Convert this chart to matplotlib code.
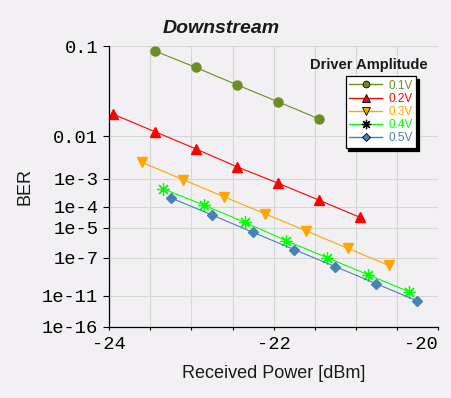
import numpy as np
import matplotlib
matplotlib.use("Agg")
import matplotlib.pyplot as plt
from matplotlib.lines import Line2D
from matplotlib.ticker import FixedLocator, FixedFormatter, MultipleLocator, FuncFormatter
from math import erfc, sqrt

# Data (received power in dBm, BER)
power_01 = [-23.45, -22.95, -22.45, -21.95, -21.45]
ber_01 = [9.3e-2, 7.0e-2, 4.9e-2, 3.2e-2, 1.9e-2]
power_02 = [-23.95, -23.45, -22.95, -22.45, -21.95, -21.45, -20.95]
ber_02 = [2.2e-2, 1.2e-2, 5.7e-3, 2.2e-3, 7.5e-4, 1.9e-4, 3.4e-5]
power_03 = [-23.6, -23.1, -22.6, -22.1, -21.6, -21.1, -20.6]
ber_03 = [2.8e-3, 9.5e-4, 2.5e-4, 4.9e-5, 6.4e-6, 5.1e-7, 2.2e-8]
power_04 = [-23.35, -22.85, -22.35, -21.85, -21.35, -20.85, -20.35]
ber_04 = [4.9e-4, 1.2e-4, 1.9e-5, 1.7e-6, 9.9e-8, 2.8e-9, 3.4e-11]
power_05 = [-23.25, -22.75, -22.25, -21.75, -21.25, -20.75, -20.25]
ber_05 = [2.3e-4, 4.4e-5, 5.4e-6, 4.1e-7, 1.7e-8, 3.1e-10, 2.1e-12]

labels = ["0.1V", "0.2V", "0.3V", "0.4V", "0.5V"]
ber_ticks = [1e-1, 1e-2, 1e-3, 1e-4, 1e-5, 1e-7, 1e-11, 1e-16]
ber_tick_labels = ["0.1", "0.01", "1e-3", "1e-4", "1e-5", "1e-7", "1e-11", "1e-16"]

# BER axis: log of the Q factor (Q^-1 of BER)
_erfc = np.vectorize(erfc, otypes=[float])


def q_func(x):
    return 0.5 * _erfc(np.asarray(x, float) / sqrt(2))


def q_inv(p):
    p = np.asarray(p, float)
    lo = np.zeros(p.shape)
    hi = np.full(p.shape, 38.0)
    for _ in range(60):
        mid = 0.5 * (lo + hi)
        above = q_func(mid) > p
        lo = np.where(above, mid, lo)
        hi = np.where(above, hi, mid)
    return 0.5 * (lo + hi)


def forward(p):
    p = np.asarray(p, float)
    ok = (p > 0) & (p < 0.5)
    safe = np.where(ok, p, 0.1)
    return np.where(ok, -np.log10(q_inv(safe)), np.nan)


def inverse(y):
    return q_func(10 ** (-np.asarray(y, float)))


bg = "#f2f0f3"
plt.rcParams["axes.unicode_minus"] = False
fig = plt.figure(figsize=(4.51, 3.98), dpi=100, facecolor=bg)
ax = fig.add_axes([0.2424, 0.179, 0.7286, 0.7053], facecolor=bg)

series = [
    (power_01, ber_01, dict(color="#6b8e23", marker="o", ms=6.5)),
    (power_02, ber_02, dict(color="#ff0000", marker="^", ms=7)),
    (power_03, ber_03, dict(color="#ffa500", marker="v", ms=7)),
    (power_04, ber_04, dict(color="#00ff00", marker=(8, 2, 0), ms=9, mew=0.9)),
    (power_05, ber_05, dict(color="#4682b4", marker="D", ms=5)),
]
for x, y, st in series:
    ax.plot(x, y, lw=0.8, mec=st["color"], **st)

ax.set_yscale("function", functions=(forward, inverse))
ax.set_ylim(1e-16, 0.1)
ax.set_xlim(-24, -20)

ax.yaxis.set_major_locator(FixedLocator(ber_ticks))
ax.yaxis.set_major_formatter(FixedFormatter(ber_tick_labels))
ax.yaxis.set_minor_locator(FixedLocator([]))
ax.xaxis.set_major_locator(MultipleLocator(0.5))
ax.xaxis.set_major_formatter(FuncFormatter(lambda v, pos: "%d" % round(v) if abs(v / 2 - round(v / 2)) < 1e-6 else ""))

ax.grid(True, color="#d6d6d6", lw=0.8)
ax.set_axisbelow(True)
for s in ["top", "right"]:
    ax.spines[s].set_visible(False)
for s in ["left", "bottom"]:
    ax.spines[s].set_linewidth(0.9)

mono = "Liberation Mono"
ax.tick_params(axis="y", length=4, width=0.8, pad=4, labelsize=13.5)
ax.tick_params(axis="x", length=2.5, width=0.8, pad=4.5, labelsize=13.5)
fig.canvas.draw()
for t in ax.get_xticklabels() + ax.get_yticklabels():
    t.set_fontfamily(mono)
# keep the -20 label inside the figure, like the reference
locs = ax.xaxis.get_majorticklocs()
for loc, tk in zip(locs, ax.xaxis.get_major_ticks(len(locs))):
    if abs(loc + 20) < 1e-6:
        tk.label1.set_horizontalalignment("right")

ax.set_ylabel("BER", fontsize=13, family="Liberation Sans", labelpad=6, color="#1a1a1a")
ax.set_xlabel("Received Power [dBm]", fontsize=13, family="Liberation Sans", labelpad=8, color="#1a1a1a")

fig.text(0.49, 0.928, "Downstream", fontsize=14, fontweight="bold", fontstyle="italic",
         family="Liberation Sans", ha="center", va="center", color="#1a1a1a")

handles = [Line2D([], [], color=st["color"], marker=st["marker"], ms=st["ms"] * 0.75,
                  mec="black", mew=0.6, lw=1) for _, _, st in series]
handles[3].set_markeredgewidth(0.9)
leg = ax.legend(handles, labels, loc="upper left", bbox_to_anchor=(0.719, 0.893),
                fancybox=False, shadow={"color": "black", "alpha": 1},
                prop={"family": "Liberation Sans", "size": 8.5},
                handlelength=2.8, handletextpad=0.5, labelspacing=0.1,
                borderpad=0.3, borderaxespad=0, framealpha=1)
leg.get_frame().set_edgecolor("black")
leg.get_frame().set_linewidth(0.9)
for txt, (_, _, st) in zip(leg.get_texts(), series):
    txt.set_color(st["color"])

ax.text(0.789, 0.932, "Driver Amplitude", transform=ax.transAxes, fontsize=10.5,
        fontweight="bold", family="Liberation Sans", ha="center", va="center", color="#1a1a1a")

fig.savefig("out.png", dpi=100, facecolor=bg)
